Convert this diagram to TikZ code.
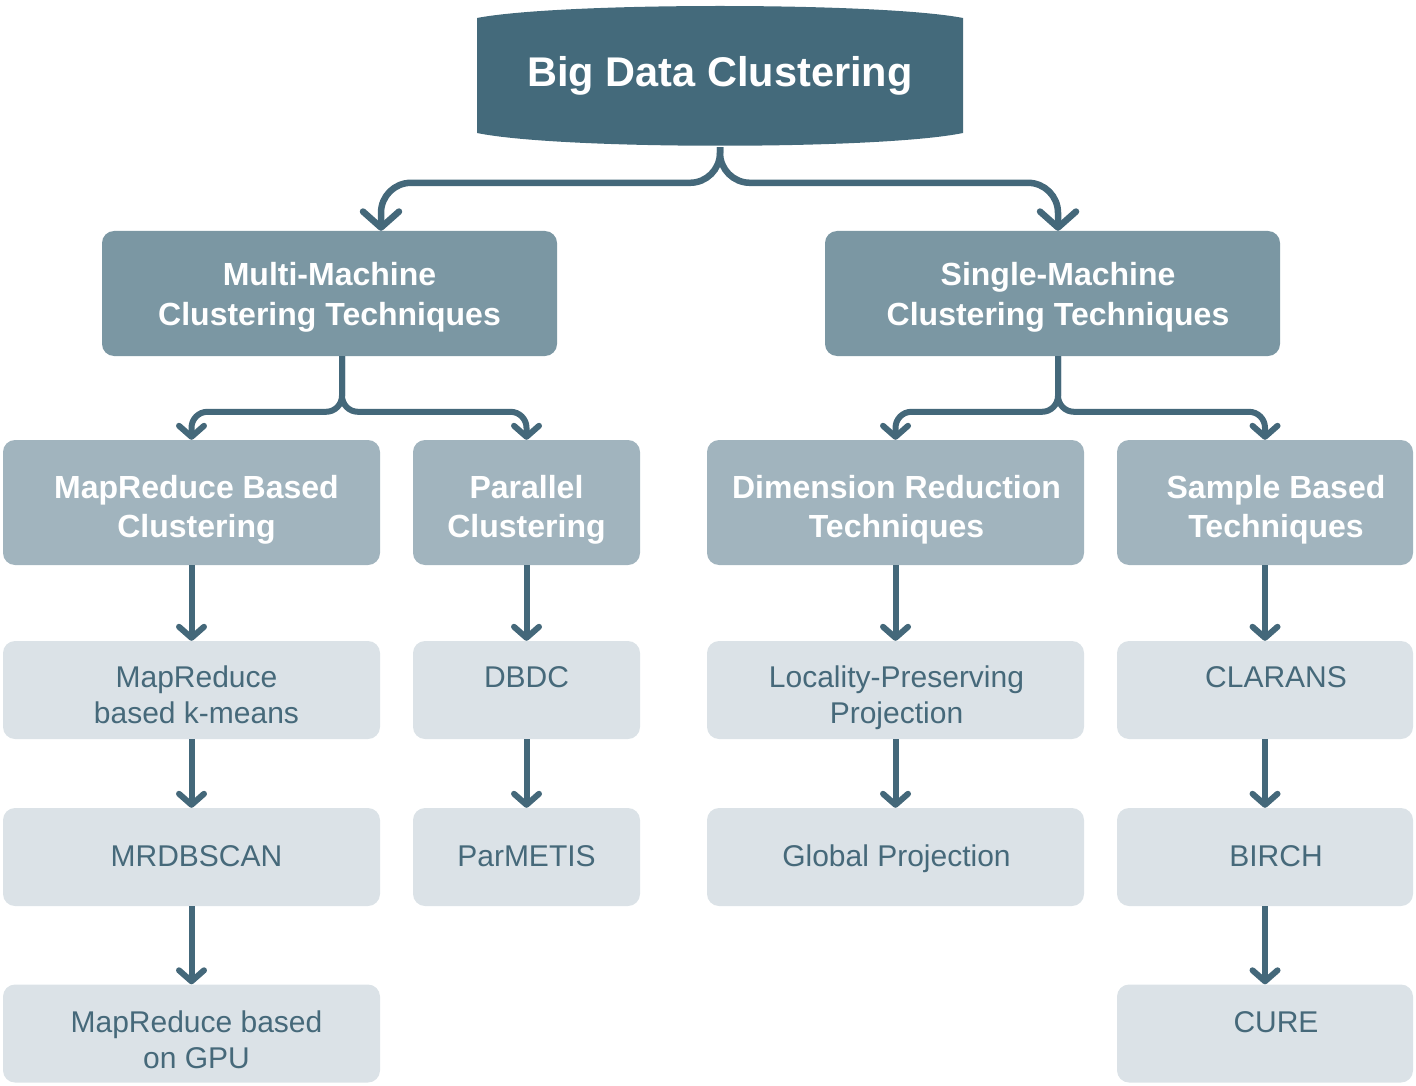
\documentclass[tikz,border=0pt]{standalone}
\usepackage{fontspec}
\setmainfont{Liberation Sans}
\usetikzlibrary{arrows.meta}
\definecolor{topc}{HTML}{446A7B}
\definecolor{lvone}{HTML}{7B97A3}
\definecolor{lvtwo}{HTML}{A1B4BE}
\definecolor{lvthree}{HTML}{DBE2E7}
\definecolor{txtc}{HTML}{46697A}
\definecolor{arrc}{HTML}{44687A}
\begin{document}
\begin{tikzpicture}[x=1pt,y=-1pt,
  boxbase/.style={rectangle, rounded corners=12pt, inner sep=0pt},
  lvonebox/.style={boxbase, fill=lvone, minimum width=455pt, minimum height=125pt},
  lvtwobox/.style={boxbase, fill=lvtwo, minimum height=125pt},
  lvthreebox/.style={boxbase, fill=lvthree, minimum height=98pt},
  lblone/.style={inner sep=0pt, align=center, text=white, font=\fontsize{32}{40}\selectfont\bfseries, yshift=-4pt},
  lbltwo/.style={inner sep=0pt, align=center, text=white, font=\fontsize{32}{39}\selectfont\bfseries, yshift=-7.7pt},
  lblthree/.style={inner sep=0pt, align=center, text=txtc, font=\fontsize{30}{36}\selectfont},
  rowa/.style={yshift=-8.5pt},
  rowb/.style={yshift=-2.5pt},
  rowc/.style={yshift=-10pt},
  conn/.style={draw=arrc, line width=6pt, -{Straight Barb[length=11pt,width=25pt,round]}},
  conntop/.style={draw=arrc, line width=6.5pt, -{Straight Barb[length=16pt,width=36pt,round]}}
]
\useasboundingbox (0,0) rectangle (1416,1086);
% top banner shape
\fill[topc] (477,18) .. controls (560,2) and (880,2) .. (963,18) -- (963,133)
  .. controls (880,150) and (560,150) .. (477,133) -- cycle;
\node[text=white, font=\fontsize{41.5}{48}\selectfont\bfseries, minimum width=486pt, minimum height=142pt, inner sep=0pt] (top) at (720,76) {Big Data Clustering};

% level 1
\node[lvonebox, label={[lblone]center:{Multi-Machine\strut\\Clustering Techniques\strut}}] (mm) at (329.5,293.5) {};
\node[lvonebox, label={[lblone,xshift=5.5pt]center:{Single-Machine\strut\\Clustering Techniques\strut}}] (sm) at (1052.5,293.5) {};

% level 2
\node[lvtwobox, minimum width=377pt, label={[lbltwo,xshift=5pt]center:{MapReduce Based\strut\\Clustering\strut}}] (mr) at (191.5,502.5) {};
\node[lvtwobox, minimum width=227pt, label={[lbltwo]center:{Parallel\strut\\Clustering\strut}}] (pc) at (526.5,502.5) {};
\node[lvtwobox, minimum width=377pt, label={[lbltwo,xshift=1pt]center:{Dimension Reduction\strut\\Techniques\strut}}] (dr) at (895.5,502.5) {};
\node[lvtwobox, minimum width=296pt, label={[lbltwo,xshift=11pt]center:{Sample Based\strut\\Techniques\strut}}] (sb) at (1265,502.5) {};

% level 3
\node[lvthreebox, minimum width=377pt, label={[lblthree,rowa,xshift=5pt]center:{MapReduce\strut\\based k-means\strut}}] (mk) at (191.5,690) {};
\node[lvthreebox, minimum width=377pt, label={[lblthree,rowb,xshift=5pt]center:{MRDBSCAN\strut}}] (mrdb) at (191.5,857) {};
\node[lvthreebox, minimum width=377pt, label={[lblthree,rowc,xshift=5pt]center:{MapReduce based\strut\\on GPU\strut}}] (mgpu) at (191.5,1033.5) {};
\node[lvthreebox, minimum width=227pt, label={[lblthree,rowa]center:{DBDC\strut\\\strut}}] (dbdc) at (526.5,690) {};
\node[lvthreebox, minimum width=227pt, label={[lblthree,rowb]center:{ParMETIS\strut}}] (parm) at (526.5,857) {};
\node[lvthreebox, minimum width=377pt, label={[lblthree,rowa,xshift=1pt]center:{Locality-Preserving\strut\\Projection\strut}}] (lpp) at (895.5,690) {};
\node[lvthreebox, minimum width=377pt, label={[lblthree,rowb,xshift=1pt]center:{Global Projection\strut}}] (gp) at (895.5,857) {};
\node[lvthreebox, minimum width=296pt, label={[lblthree,rowa,xshift=11pt]center:{CLARANS\strut\\\strut}}] (clar) at (1265,690) {};
\node[lvthreebox, minimum width=296pt, label={[lblthree,rowb,xshift=11pt]center:{BIRCH\strut}}] (birch) at (1265,857) {};
\node[lvthreebox, minimum width=296pt, label={[lblthree,rowc,xshift=11pt]center:{CURE\strut\\\strut}}] (cure) at (1265,1033.5) {};

% connectors top -> level 1
\draw[conntop, rounded corners=30pt] (top.south) |- ([xshift=51.5pt,yshift=48pt]mm.north) -- ([xshift=51.5pt]mm.north);
\draw[conntop, rounded corners=30pt] (top.south) |- ([xshift=5.5pt,yshift=48pt]sm.north) -- ([xshift=5.5pt]sm.north);

% level 1 -> level 2
\draw[conn, rounded corners=16pt] ([xshift=12.5pt]mm.south) |- ([yshift=28pt]mr.north) -- (mr.north);
\draw[conn, rounded corners=16pt] ([xshift=12.5pt]mm.south) |- ([yshift=28pt]pc.north) -- (pc.north);
\draw[conn, rounded corners=16pt] ([xshift=5.5pt]sm.south) |- ([yshift=28pt]dr.north) -- (dr.north);
\draw[conn, rounded corners=16pt] ([xshift=5.5pt]sm.south) |- ([yshift=28pt]sb.north) -- (sb.north);

% level 2 -> level 3 chains
\draw[conn] (mr.south) -- (mk.north);
\draw[conn] (mk.south) -- (mrdb.north);
\draw[conn] (mrdb.south) -- (mgpu.north);
\draw[conn] (pc.south) -- (dbdc.north);
\draw[conn] (dbdc.south) -- (parm.north);
\draw[conn] (dr.south) -- (lpp.north);
\draw[conn] (lpp.south) -- (gp.north);
\draw[conn] (sb.south) -- (clar.north);
\draw[conn] (clar.south) -- (birch.north);
\draw[conn] (birch.south) -- (cure.north);
\end{tikzpicture}
\end{document}
